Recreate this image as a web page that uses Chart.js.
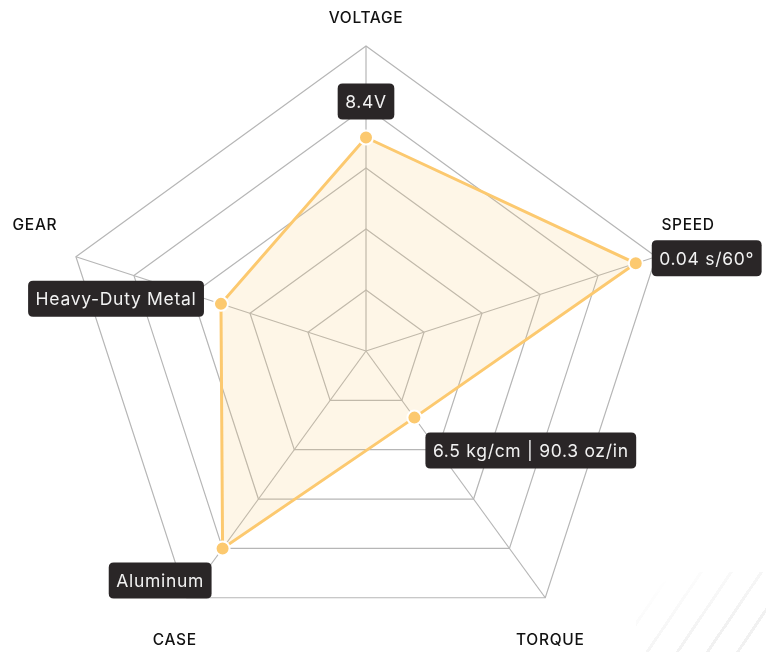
<!DOCTYPE html>
<html>
<head>
<meta charset="utf-8">
<title>Servo radar</title>
<script src="https://cdn.jsdelivr.net/npm/chart.js@4.4.0/dist/chart.umd.min.js"></script>
<style>
  html, body { margin: 0; padding: 0; background: #fff; overflow: hidden; }
  #wrap { position: relative; width: 766px; height: 652px; }
  #radar { position: absolute; left: 0; top: 0; }
  .stripes {
    position: absolute; right: 0; bottom: 0; width: 130px; height: 80px;
    background: repeating-linear-gradient(-56deg, transparent 0 22px, #f1f1f1 22px 25px);
    -webkit-mask-image: linear-gradient(to top left, #000 30%, transparent 85%);
    mask-image: linear-gradient(to top left, #000 30%, transparent 85%);
  }
</style>
</head>
<body>
<div id="wrap">
  <div class="stripes"></div>
  <canvas id="radar" width="766" height="652"></canvas>
</div>
<script>
// axes go clockwise from the top
const axisLabels = ['VOLTAGE', 'SPEED', 'TORQUE', 'CASE', 'GEAR'];
const scores = [0.7, 0.93, 0.27, 0.8, 0.5];
const specLabels = ['8.4V', '0.04 s/60°', '6.5 kg/cm | 90.3 oz/in', 'Aluminum', 'Heavy-Duty Metal'];
const scaleMin = 0;
const scaleMax = 1;
const scaleStep = 0.2;

const FONT = 'Inter, "Open Sans", sans-serif';

// where each axis title sits, relative to the outer vertex
const axisLabelShift = [[0, -28], [32, -31], [5, 43], [-12, 43], [-41, -31]];
// where each value box sits, relative to its point
const boxPlacement = [
  { side: 'top', gap: 18 },
  { side: 'right', gap: 16, dy: -5 },
  { side: 'belowRight', dx: 11, dy: 15 },
  { side: 'belowLeft', dx: 11, dy: 14 },
  { side: 'left', gap: 17, dy: -5 }
];

function roundRect(ctx, x, y, w, h, r) {
  ctx.beginPath();
  ctx.moveTo(x + r, y);
  ctx.lineTo(x + w - r, y);
  ctx.quadraticCurveTo(x + w, y, x + w, y + r);
  ctx.lineTo(x + w, y + h - r);
  ctx.quadraticCurveTo(x + w, y + h, x + w - r, y + h);
  ctx.lineTo(x + r, y + h);
  ctx.quadraticCurveTo(x, y + h, x, y + h - r);
  ctx.lineTo(x, y + r);
  ctx.quadraticCurveTo(x, y, x + r, y);
  ctx.closePath();
}

const axisTitles = {
  id: 'axisTitles',
  afterDraw(chart) {
    const ctx = chart.ctx;
    const scale = chart.scales.r;
    ctx.save();
    ctx.font = '500 15.5px ' + FONT;
    ctx.letterSpacing = '0.7px';
    ctx.fillStyle = '#111';
    ctx.textAlign = 'center';
    ctx.textBaseline = 'middle';
    axisLabels.forEach((lab, i) => {
      const p = scale.getPointPosition(i, scale.drawingArea);
      const s = axisLabelShift[i];
      ctx.fillText(lab, p.x + s[0], p.y + s[1]);
    });
    ctx.restore();
  }
};

const valueBoxes = {
  id: 'valueBoxes',
  afterDatasetsDraw(chart) {
    const ctx = chart.ctx;
    const pts = chart.getDatasetMeta(0).data;
    ctx.save();
    ctx.font = '17.5px ' + FONT;
    ctx.letterSpacing = '0.7px';
    ctx.textBaseline = 'middle';
    ctx.textAlign = 'center';
    pts.forEach((pt, i) => {
      const txt = specLabels[i];
      const w = ctx.measureText(txt).width + 15;
      const h = 36;
      const pl = boxPlacement[i];
      let x, y;
      if (pl.side === 'top') { x = pt.x - w / 2; y = pt.y - pl.gap - h; }
      else if (pl.side === 'right') { x = pt.x + pl.gap; y = pt.y + pl.dy - h / 2; }
      else if (pl.side === 'left') { x = pt.x - pl.gap - w; y = pt.y + pl.dy - h / 2; }
      else if (pl.side === 'belowRight') { x = pt.x + pl.dx; y = pt.y + pl.dy; }
      else { x = pt.x - pl.dx - w; y = pt.y + pl.dy; }
      roundRect(ctx, x, y, w, h, 5);
      ctx.fillStyle = '#2a2627';
      ctx.fill();
      ctx.fillStyle = '#f2f2f2';
      ctx.fillText(txt, x + w / 2, y + h / 2 + 1);
    });
    ctx.restore();
  }
};

new Chart(document.getElementById('radar'), {
  type: 'radar',
  data: {
    labels: axisLabels,
    datasets: [{
      data: scores,
      borderColor: '#fcc96f',
      borderWidth: 3,
      backgroundColor: 'rgba(252, 201, 111, 0.17)',
      fill: true,
      pointRadius: 7,
      pointBackgroundColor: '#fcc96f',
      pointBorderColor: '#fff',
      pointBorderWidth: 2
    }]
  },
  options: {
    responsive: false,
    animation: false,
    plugins: { legend: { display: false }, tooltip: { enabled: false } },
    scales: {
      r: {
        min: scaleMin,
        max: scaleMax,
        ticks: { display: false, stepSize: scaleStep },
        pointLabels: { display: false },
        grid: { color: '#b6b6b6', lineWidth: 1.2 },
        angleLines: { color: '#b6b6b6', lineWidth: 1.2 },
        afterFit(scale) {
          scale.xCenter = 366;
          scale.yCenter = 351;
          scale.drawingArea = 305;
        }
      }
    }
  },
  plugins: [axisTitles, valueBoxes]
});
</script>
</body>
</html>
